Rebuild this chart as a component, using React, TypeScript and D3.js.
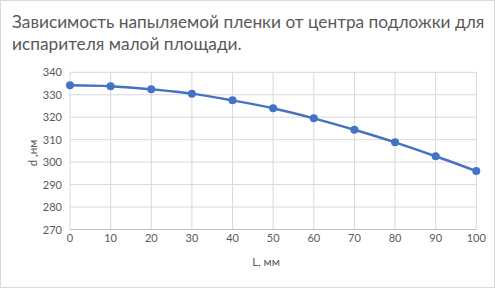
import React from "react";
import * as d3 from "d3";

const W = 495;
const H = 288;
const titleLines = ["Зависимость напыляемой пленки от центра подложки для", "испарителя малой площади."];
const xValues = [0, 10, 20, 30, 40, 50, 60, 70, 80, 90, 100];
const yValues = [334.2, 333.8, 332.4, 330.5, 327.5, 324.0, 319.5, 314.4, 308.8, 302.6, 296.0];
const xTicks = [0, 10, 20, 30, 40, 50, 60, 70, 80, 90, 100];
const yTicks = [270, 280, 290, 300, 310, 320, 330, 340];
const xTitle = "L, мм";
const yTitle = "d ,нм";

export default function App() {
  const x = d3.scaleLinear().domain([0, 100]).range([70, 476.3]);
  const y = d3.scaleLinear().domain([270, 340]).range([229.5, 72.3]);
  const line = d3
    .line<number>()
    .x((_, i) => x(xValues[i]))
    .y((v) => y(v))
    .curve(d3.curveMonotoneX);
  const font = "Lato, 'Open Sans', sans-serif";
  const grey = "#595959";
  return (
    <svg
      width={W}
      height={H}
      style={{ position: "absolute", left: 0, top: 0, background: "#fff" }}
      fontFamily={font}
    >
      <rect x={0.5} y={0.5} width={W - 1} height={H - 1} fill="#fff" stroke="#d9d9d9" />
      {titleLines.map((t, i) => (
        <text key={i} x={12} y={27.5 + i * 22} fontSize={17.3} fill={grey}>
          {t}
        </text>
      ))}
      {yTicks.map((t) => (
        <line key={"gy" + t} x1={x(0)} x2={x(100)} y1={y(t)} y2={y(t)} stroke="#d9d9d9" strokeWidth={1} />
      ))}
      {xTicks.map((t) => (
        <line key={"gx" + t} x1={x(t)} x2={x(t)} y1={y(340)} y2={y(270)} stroke="#d9d9d9" strokeWidth={1} />
      ))}
      <line x1={x(0)} x2={x(100)} y1={y(270)} y2={y(270)} stroke="#bfbfbf" strokeWidth={1} />
      {yTicks.map((t) => (
        <text key={"ty" + t} x={62} y={y(t) + 4} fontSize={11} fill={grey} textAnchor="end">
          {t}
        </text>
      ))}
      {xTicks.map((t) => (
        <text key={"tx" + t} x={x(t)} y={242} fontSize={11} fill={grey} textAnchor="middle">
          {t}
        </text>
      ))}
      <text x={266} y={266} fontSize={11.5} fill={grey} textAnchor="middle">
        {xTitle}
      </text>
      <text
        transform={`translate(37, 153) rotate(-90)`}
        fontSize={11.5}
        fill={grey}
        textAnchor="middle"
      >
        {yTitle}
      </text>
      <path d={line(yValues) || ""} fill="none" stroke="#4472C4" strokeWidth={2.5} />
      {yValues.map((v, i) => (
        <circle key={"p" + i} cx={x(xValues[i])} cy={y(v)} r={4} fill="#4472C4" />
      ))}
    </svg>
  );
}
